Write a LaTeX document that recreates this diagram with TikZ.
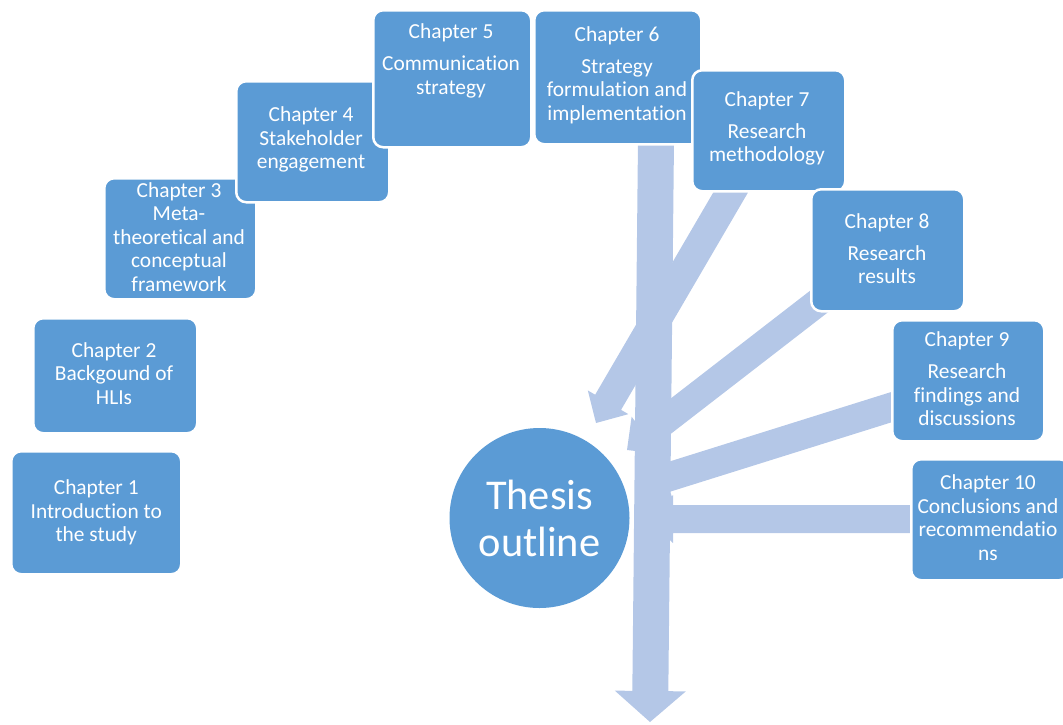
\documentclass[tikz,border=0pt]{standalone}
\usepackage{fontspec}
\setmainfont{Carlito}[Ligatures=NoCommon]
\usetikzlibrary{calc}
\definecolor{boxblue}{HTML}{5B9BD5}
\definecolor{arrowblue}{HTML}{B4C7E7}
\newcommand\blockarr[5]{%
  \coordinate (tmpC) at ($(#2)!#5!(#1)$);
  \fill[arrowblue] ($(#1)!#3!90:(#2)$) -- ($(tmpC)!#3!90:(#2)$) -- ($(tmpC)!#4!90:(#2)$) -- (#2)
    -- ($(tmpC)!#4!-90:(#2)$) -- ($(tmpC)!#3!-90:(#2)$) -- ($(#1)!#3!-90:(#2)$) -- cycle;
}
\tikzset{
  chbox/.style={draw=white, line width=2.5pt, fill=boxblue, rounded corners=10pt, anchor=north west, inner sep=0pt},
  lbl/.style={text=white, align=center, font=\fontsize{21.4}{23.5}\selectfont, inner sep=0pt},
}
\begin{document}
\begin{tikzpicture}[x=1pt,y=-1pt]
\useasboundingbox (0,0) rectangle (1063,724);
% arrow end points
\coordinate (m0) at (656,140);
\coordinate (m1) at (650,722);
\coordinate (a7s) at (735,185);
\coordinate (a7t) at (596,423);
\coordinate (a8s) at (830,293);
\coordinate (a8t) at (627,450);
\coordinate (a9s) at (895,406);
\coordinate (a9t) at (643,485);
\coordinate (a10s) at (915,519);
\coordinate (a10t) at (649,519);
% arrows
\blockarr{a7s}{a7t}{15pt}{23.5pt}{24pt}
\blockarr{a8s}{a8t}{14pt}{23.5pt}{24pt}
\blockarr{a9s}{a9t}{14.5pt}{23.5pt}{24pt}
\blockarr{a10s}{a10t}{14pt}{24pt}{24pt}
\blockarr{m0}{m1}{18pt}{35.5pt}{31pt}
% circle
\node[circle, fill=boxblue, minimum size=180pt, inner sep=0pt, text=white, align=center,
  font=\fontsize{42.4}{47}\selectfont] (th) at (539.5,518) {Thesis\\outline};
% boxes
\node[chbox, minimum width=170pt, minimum height=123pt] (c1) at (10,450) {};
\node[lbl] (c1t) at (c1.center) {Chapter 1\\Introduction to\\the study};
\node[chbox, minimum width=164pt, minimum height=115pt] (c2) at (32,317) {};
\node[lbl] (c2t) at (114,373.5) {Chapter 2\\Backgound of\\HLIs};
\node[chbox, minimum width=152pt, minimum height=121pt] (c3) at (103,177) {};
\node[lbl] (c3t) at (179,237) {Chapter 3\\Meta-\\theoretical and\\conceptual\\framework};
\node[chbox, minimum width=153pt, minimum height=121pt] (c4) at (235,80) {};
\node[lbl] (c4t) at (311,139.5) {Chapter 4\\Stakeholder\\engagement};
\node[chbox, minimum width=158pt, minimum height=137pt] (c5) at (372,9) {};
\node[lbl] (c5t) at (451,61) {Chapter 5\\[8.5pt]Communication\\strategy};
\node[chbox, minimum width=167pt, minimum height=134pt] (c6) at (533,9) {};
\node[lbl] (c6t) at (617,75) {Chapter 6\\[8.5pt]Strategy\\formulation and\\implementation};
\node[chbox, minimum width=153pt, minimum height=121pt] (c7) at (691,69) {};
\node[lbl] (c7t) at (767,128.5) {Chapter 7\\[8.5pt]Research\\methodology};
\node[chbox, minimum width=153pt, minimum height=122pt] (c8) at (810,188) {};
\node[lbl] (c8t) at (887,248.5) {Chapter 8\\[8.5pt]Research\\results};
\node[chbox, minimum width=152pt, minimum height=121pt] (c9) at (891,319) {};
\node[lbl] (c9t) at (967,379) {Chapter 9\\[8.5pt]Research\\findings and\\discussions};
\node[chbox, minimum width=158pt, minimum height=121pt] (c10) at (910,458) {};
\node[lbl] (c10t) at (988,517.5) {Chapter 10\\Conclusions and\\recommendatio\\ns};
\end{tikzpicture}
\end{document}
